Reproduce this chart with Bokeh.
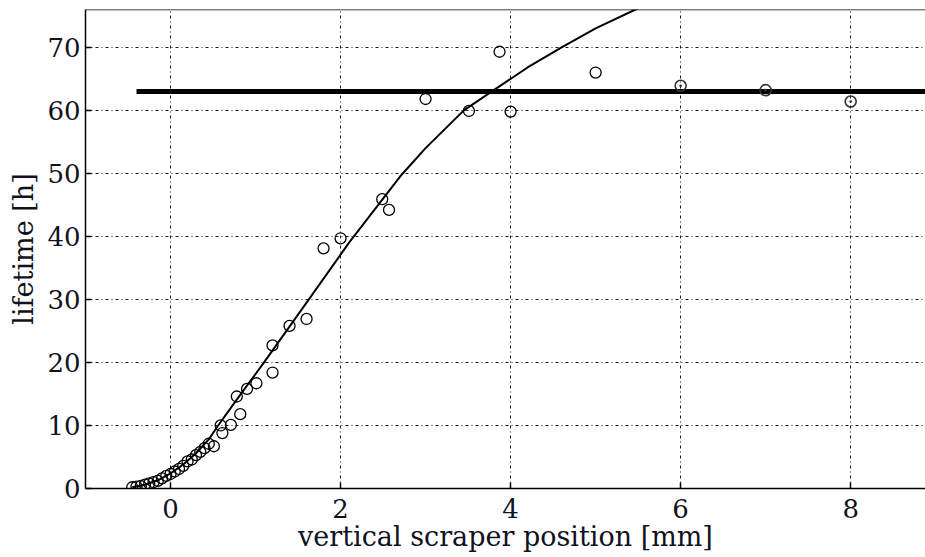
from bokeh.plotting import figure
from bokeh.models import Range1d, FixedTicker, Span
from bokeh.embed import file_html
from bokeh.resources import INLINE

# ---- data ----
x_ticks = [0, 2, 4, 6, 8]
y_ticks = [0, 10, 20, 30, 40, 50, 60, 70]
x_min, x_max = -1.0, 8.88
y_min, y_max = 0, 76

# fitted curve
curve_x = [-0.45, -0.3, -0.15, 0.0, 0.15, 0.3, 0.45, 0.55, 0.8, 1.1, 1.6, 2.1, 2.5, 2.7, 3.0, 3.45, 3.78, 4.2, 4.6, 5.0, 5.5]
curve_y = [0.2, 0.6, 1.3, 2.4, 3.8, 5.6, 7.8, 9.8, 14.5, 20.0, 29.5, 39.0, 46.0, 49.5, 54.0, 60.0, 63.0, 66.8, 70.0, 73.0, 76.2]

# measured lifetimes
meas_x = [-0.45, -0.4, -0.35, -0.3, -0.25, -0.2, -0.15, -0.1, -0.05, 0.0, 0.05, 0.1, 0.15, 0.2, 0.25, 0.3, 0.35, 0.4,
          0.45, 0.51, 0.59, 0.61, 0.71, 0.78, 0.82, 0.9, 1.01, 1.2, 1.2, 1.4, 1.6, 1.8, 2.0, 2.49, 2.57,
          3.0, 3.51, 3.87, 4.0, 5.0]
meas_y = [0.2, 0.3, 0.4, 0.6, 0.8, 1.0, 1.2, 1.6, 2.0, 2.3, 2.7, 3.1, 3.6, 4.3, 4.6, 5.3, 5.8, 6.4,
          7.1, 6.7, 10.0, 8.8, 10.1, 14.6, 11.8, 15.8, 16.7, 22.7, 18.4, 25.8, 26.9, 38.1, 39.7, 45.9, 44.2,
          61.8, 59.9, 69.3, 59.8, 66.0]

# far positions (drawn with a centre dot)
far_x = [6.0, 7.0, 8.0, 9.0]
far_y = [63.9, 63.2, 61.4, 59.4]

# reference lifetime level
ref_x = [-0.4, 9.5]
ref_y = [63.0, 63.0]

FONT = "DejaVu Serif"
TXT = "#111122"

p = figure(width=925, height=557, output_backend="svg", toolbar_location=None,
           x_range=Range1d(x_min, x_max), y_range=Range1d(y_min, y_max),
           min_border_left=85, min_border_right=0, min_border_top=9, min_border_bottom=69)
p.outline_line_color = None
p.background_fill_color = "white"
p.border_fill_color = "white"

# axes
for ax in (p.xaxis[0], p.yaxis[0]):
    ax.major_tick_in = 6
    ax.major_tick_out = 0
    ax.minor_tick_line_color = None
    ax.axis_line_width = 1.5
    ax.axis_line_color = "black"
    ax.major_tick_line_color = "black"
    ax.major_tick_line_width = 1.5
    ax.major_label_text_font = FONT
    ax.major_label_text_font_size = "26px"
    ax.major_label_text_color = TXT
    ax.axis_label_text_font = FONT
    ax.axis_label_text_font_size = "27px"
    ax.axis_label_text_font_style = "normal"
    ax.axis_label_text_color = TXT

p.xaxis.ticker = FixedTicker(ticks=x_ticks)
p.yaxis.ticker = FixedTicker(ticks=y_ticks)
p.xaxis.axis_label = "vertical scraper position [mm]"
p.yaxis.axis_label = "lifetime [h]"
p.xaxis.major_label_standoff = 10
p.xaxis.axis_label_standoff = 0
p.yaxis.major_label_standoff = 5
p.yaxis.axis_label_standoff = 5

# top frame edge
p.add_layout(Span(location=y_max, dimension="width", line_color="black", line_width=1.5))

# grid
for g in (p.xgrid[0], p.ygrid[0]):
    g.grid_line_color = "black"
    g.grid_line_dash = "3 3 1 3"
    g.grid_line_width = 1
    g.grid_line_alpha = 0.9
p.xgrid.ticker = FixedTicker(ticks=x_ticks)
p.ygrid.ticker = FixedTicker(ticks=y_ticks)

# glyphs
p.line(ref_x, ref_y, line_color="black", line_width=5)
p.line(curve_x, curve_y, line_color="black", line_width=2)
p.scatter(meas_x, meas_y, marker="circle", size=11, fill_color=None, line_color="black", line_width=1.3)
p.scatter(far_x, far_y, marker="circle_dot", size=11, fill_color=None, line_color="#333333", line_width=1.6)

open("out.html", "w").write(file_html(p, INLINE))
